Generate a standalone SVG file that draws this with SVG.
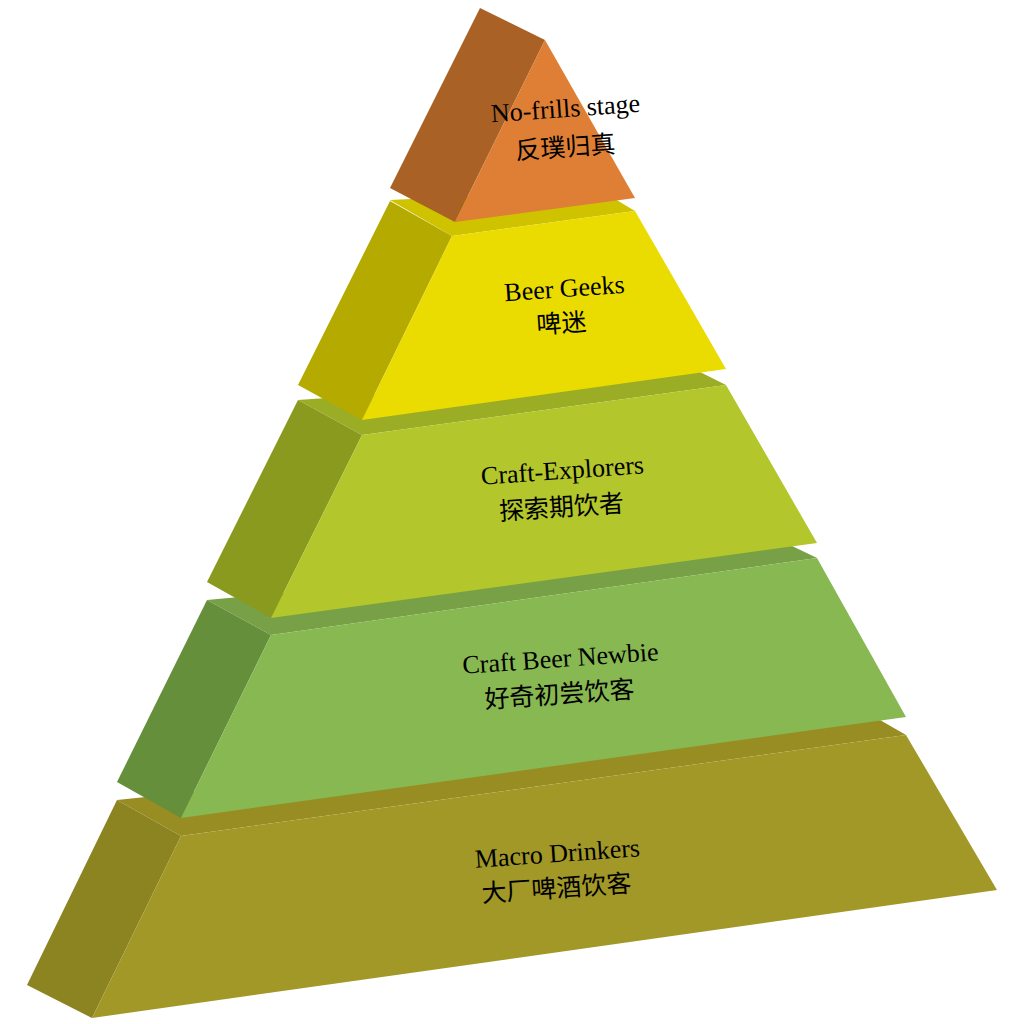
<svg xmlns="http://www.w3.org/2000/svg" width="1024" height="1024" viewBox="0 0 1024 1024">
<style>
text{font-family:"Liberation Serif","Noto Sans CJK SC",serif;font-size:26px;fill:#000;text-anchor:middle}
.c{font-size:25px}
</style>
<rect width="1024" height="1024" fill="#fff"/>
<g id="macro">
<polygon points="117,800 181,836 906,735 880,720" fill="#978d23"/>
<polygon points="27,985 117,800 181,836 92,1018" fill="#8b8420"/>
<polygon points="181,836 906,735 997,890 92,1018" fill="#a19828"/>
<text transform="translate(558,862) rotate(-4)">Macro Drinkers</text>
<text class="c" transform="translate(557,897) rotate(-4)">大厂啤酒饮客</text>
</g>
<g id="newbie">
<polygon points="207,600 271,635 817,558 790,545" fill="#77a047"/>
<polygon points="117,782 207,600 271,635 181,818" fill="#668f3c"/>
<polygon points="271,635 817,558 906,717 181,818" fill="#88b851"/>
<text transform="translate(561,667) rotate(-4)">Craft Beer Newbie</text>
<text class="c" transform="translate(560,703) rotate(-4)">好奇初尝饮客</text>
</g>
<g id="explorers">
<polygon points="298,400 362,435 726,385 700,372" fill="#9aad25"/>
<polygon points="207,582 298,400 362,435 271,618" fill="#8a9a1e"/>
<polygon points="362,435 726,385 817,543 271,618" fill="#b3c62b"/>
<text transform="translate(563,479) rotate(-4)">Craft-Explorers</text>
<text class="c" transform="translate(562,516) rotate(-4)">探索期饮者</text>
</g>
<g id="geeks">
<polygon points="390,200 600,190 635,211 452,236" fill="#cfc300"/>
<polygon points="298,385 390,201 452,236 362,420" fill="#b5ab00"/>
<polygon points="452,236 635,211 726,369 362,420" fill="#eadc00"/>
<text transform="translate(565,297) rotate(-4)">Beer Geeks</text>
<text class="c" transform="translate(562,332) rotate(-4)">啤迷</text>
</g>
<g id="nofrills">
<polygon points="390,188 480,8 545,40 455,222" fill="#a96125"/>
<polygon points="455,222 545,40 635,198" fill="#de7f35"/>
<text transform="translate(566,117) rotate(-4)">No-frills stage</text>
<text class="c" transform="translate(566,156) rotate(-4)">反璞归真</text>
</g>
<g id="connectors"/>
</svg>
